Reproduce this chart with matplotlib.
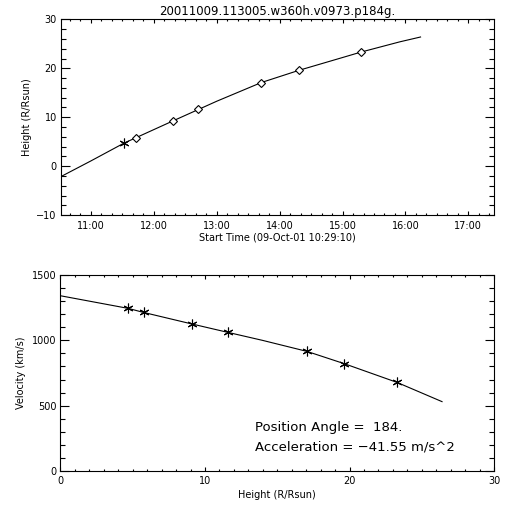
import matplotlib
matplotlib.use("Agg")
import matplotlib.pyplot as plt
from matplotlib.ticker import MultipleLocator, FixedLocator, FuncFormatter

# height-time data (hours of day, R/Rsun)
star_time = [11.52]
star_height = [4.69]
diamond_time = [11.715, 12.30, 12.70, 13.71, 14.31, 15.29]
diamond_height = [5.71, 9.24, 11.63, 17.1, 19.6, 23.3]
fit_time = [10.523, 11.0, 11.52, 12.30, 13.0, 13.71, 14.31, 15.0, 15.29, 15.91, 16.24]
fit_height = [-2.1, 1.1, 4.69, 9.24, 13.28, 17.1, 19.6, 22.2, 23.3, 25.4, 26.39]

# velocity-height data
vel_height = [4.69, 5.75, 9.11, 11.58, 17.05, 19.65, 23.28]
vel_value = [1246, 1215, 1126, 1062, 916, 821, 678]
vfit_height = [0.0, 4.69, 5.75, 9.11, 11.58, 14.0, 17.05, 19.65, 23.28, 26.4]
vfit_value = [1343, 1246, 1215, 1126, 1062, 1000, 916, 821, 678, 530]

title = "20011009.113005.w360h.v0973.p184g."
hour_ticks = [11, 12, 13, 14, 15, 16, 17]

plt.rcParams['font.family'] = 'DejaVu Sans'
plt.rcParams['font.size'] = 7

fig = plt.figure(figsize=(5.12, 5.12), dpi=100)
ax1 = fig.add_axes([0.119, 0.5795, 0.846, 0.3828])
ax2 = fig.add_axes([0.118, 0.0807, 0.847, 0.3816])

asterisk = (6, 2, 0)

def idl_ticks(ax, xlen, ylen):
    ax.tick_params(which='both', direction='in', top=True, right=True, width=0.8)
    ax.tick_params(axis='x', which='major', length=xlen, pad=4)
    ax.tick_params(axis='x', which='minor', length=xlen / 2)
    ax.tick_params(axis='y', which='major', length=ylen, pad=3)
    ax.tick_params(axis='y', which='minor', length=ylen / 2)
    for s in ax.spines.values():
        s.set_linewidth(0.8)

# top panel: height vs time
ax1.plot(fit_time, fit_height, color='black', lw=0.8)
ax1.plot(star_time, star_height, ls='none', marker=asterisk, ms=7, mec='black', mew=0.8)
ax1.plot(diamond_time, diamond_height, ls='none', marker='D', ms=4.3, mfc='white', mec='black', mew=0.8)
ax1.set_xlim(10.523, 17.409)
ax1.set_ylim(-10, 30)
ax1.xaxis.set_major_locator(FixedLocator(hour_ticks))
ax1.xaxis.set_major_formatter(FuncFormatter(lambda v, p: "%d:00" % round(v)))
ax1.xaxis.set_minor_locator(MultipleLocator(1 / 6))
ax1.yaxis.set_major_locator(MultipleLocator(10))
ax1.yaxis.set_minor_locator(MultipleLocator(2))
idl_ticks(ax1, 3, 6.5)
ax1.set_xlabel("Start Time (09-Oct-01 10:29:10)", labelpad=1)
ax1.set_ylabel("Height (R/Rsun)", labelpad=3)
ax1.set_title(title, fontsize=8.5, pad=3)

# bottom panel: velocity vs height
ax2.plot(vfit_height, vfit_value, color='black', lw=0.8)
ax2.plot(vel_height, vel_value, ls='none', marker=asterisk, ms=7, mec='black', mew=0.8)
ax2.set_xlim(0, 30)
ax2.set_ylim(0, 1500)
ax2.xaxis.set_major_locator(MultipleLocator(10))
ax2.xaxis.set_minor_locator(MultipleLocator(1))
ax2.yaxis.set_major_locator(MultipleLocator(500))
ax2.yaxis.set_minor_locator(MultipleLocator(100))
idl_ticks(ax2, 3, 6.5)
ax2.set_xlabel("Height (R/Rsun)", labelpad=3)
ax2.set_ylabel("Velocity (km/s)", labelpad=4)
ax2.text(0.449, 0.203, "Position Angle =  184.", transform=ax2.transAxes, fontsize=9.5)
ax2.text(0.449, 0.102, "Acceleration = \u221241.55 m/s^2", transform=ax2.transAxes, fontsize=9.5)

fig.savefig("out.png", dpi=100, facecolor='white')
